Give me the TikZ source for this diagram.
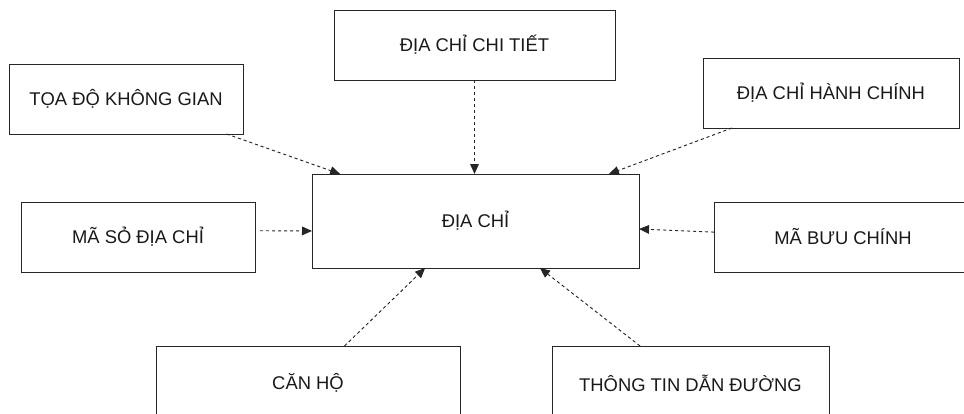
\documentclass[tikz,border=0pt]{standalone}
\usepackage{fontspec}
\setmainfont{Liberation Sans}
\usetikzlibrary{arrows.meta,calc}

\tikzset{
  entity/.style={draw=black!85, line width=0.75pt, fill=white, inner sep=0pt, outer sep=0pt,
                 font=\fontsize{13.8}{16}\selectfont, text=black!90},
  link/.style={draw=black!85, line width=0.7pt, dash pattern=on 2.4pt off 2.1pt,
               -{Triangle[length=7.5pt,width=6.5pt]}}
}

\begin{document}
\begin{tikzpicture}[x=0.75pt,y=-0.75pt]
  \useasboundingbox (0,0) rectangle (964,414);
  \clip (0,0) rectangle (964,414);

  % central entity and its attributes
  \node[entity, minimum width=245.25pt, minimum height=70.5pt] (diachi) at (475.5,221) {ĐỊA CHỈ};
  \node[entity, minimum width=175.5pt, minimum height=52.5pt] (toado) at (126,99) {TỌA ĐỘ KHÔNG GIAN};
  \node[entity, minimum width=210.75pt, minimum height=52.5pt] (chitiet) at (474.5,45) {ĐỊA CHỈ CHI TIẾT};
  \node[entity, minimum width=192pt, minimum height=52.5pt] (hanhchinh) at (831,93) {ĐỊA CHỈ HÀNH CHÍNH};
  \node[entity, minimum width=175.5pt, minimum height=52.5pt] (maso) at (138,237) {MÃ SỎ ĐỊA CHỈ};
  \node[entity, minimum width=193.5pt, minimum height=52.5pt] (mabuu) at (843,237) {MÃ BƯU CHÍNH};
  \node[entity, minimum width=228pt, minimum height=55.5pt] (canho) at (308,383) {CĂN HỘ};
  \node[entity, minimum width=207.75pt, minimum height=55.5pt] (thongtin) at (690.5,383) {THÔNG TIN DẪN ĐƯỜNG};

  % dashed references into the central entity
  \draw[link] ($(toado.south west)!0.93!(toado.south east)$) -- ($(diachi.north west)!0.086!(diachi.north east)$);
  \draw[link] (chitiet.south) -- (chitiet.south |- diachi.north);
  \draw[link] ($(hanhchinh.south west)!0.113!(hanhchinh.south east)$) -- ($(diachi.north west)!0.908!(diachi.north east)$);
  \draw[link, shorten <=3.75pt] ($(maso.north east)!0.41!(maso.south east)$) -- ($(diachi.north west)!0.606!(diachi.south west)$);
  \draw[link] ($(mabuu.north west)!0.43!(mabuu.south west)$) -- ($(diachi.north east)!0.585!(diachi.south east)$);
  \draw[link] ($(canho.north west)!0.62!(canho.north east)$) -- ($(diachi.south west)!0.346!(diachi.south east)$);
  \draw[link] ($(thongtin.north west)!0.318!(thongtin.north east)$) -- ($(diachi.south west)!0.697!(diachi.south east)$);
\end{tikzpicture}
\end{document}
